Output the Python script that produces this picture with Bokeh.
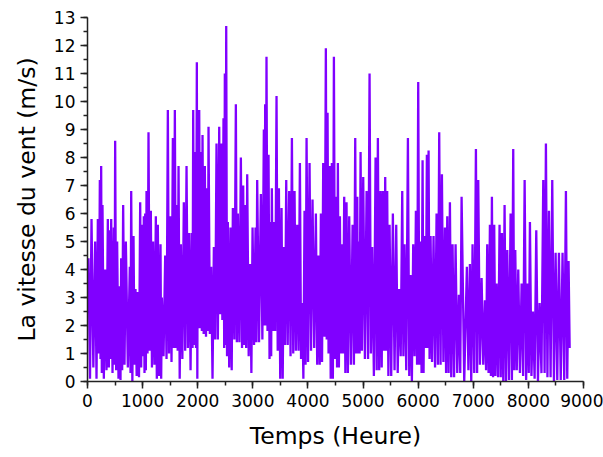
import numpy as np
from bokeh.plotting import figure
from bokeh.models import Range1d, SingleIntervalTicker, ColumnDataSource
from bokeh.embed import file_html
from bokeh.resources import INLINE

# Hourly wind speed: local peaks (hour, m/s) and the
# trough that follows each peak (m/s).
heures_pic = [
    18, 73, 139, 188, 224, 248, 272, 321, 369, 405,
    430, 478, 502, 538, 587, 611, 647, 696, 768, 793,
    835, 871, 913, 956, 992, 1022, 1047, 1071, 1107, 1149,
    1190, 1240, 1276, 1325, 1349, 1410, 1458, 1500, 1549, 1585,
    1621, 1652, 1694, 1748, 1797, 1846, 1894, 1918, 1954, 1984,
    2002, 2027, 2063, 2087, 2129, 2172, 2196, 2244, 2293, 2341,
    2390, 2426, 2468, 2492, 2517, 2547, 2595, 2638, 2692, 2728,
    2783, 2825, 2861, 2898, 2952, 2995, 3049, 3079, 3146, 3200,
    3224, 3248, 3285, 3321, 3345, 3382, 3430, 3473, 3521, 3563,
    3606, 3660, 3709, 3757, 3805, 3854, 3896, 3938, 3975, 4029,
    4083, 4144, 4192, 4235, 4277, 4325, 4356, 4392, 4434, 4471,
    4513, 4543, 4580, 4616, 4658, 4700, 4749, 4810, 4858, 4895,
    4919, 4955, 5003, 5064, 5118, 5166, 5227, 5269, 5317, 5360,
    5402, 5438, 5481, 5541, 5602, 5656, 5711, 5753, 5814, 5862,
    5910, 5959, 6001, 6043, 6080, 6116, 6158, 6189, 6225, 6279,
    6334, 6382, 6431, 6485, 6528, 6576, 6624, 6679, 6739, 6788,
    6884, 6939, 6987, 7048, 7090, 7151, 7211, 7253, 7302, 7338,
    7380, 7423, 7477, 7520, 7568, 7617, 7677, 7725, 7762, 7816,
    7877, 7932, 7986, 8028, 8083, 8143, 8204, 8270, 8318, 8373,
    8433, 8494, 8554, 8620, 8681, 8729,
]
vitesse_pic = [
    4.4, 5.8, 5.0, 5.8, 7.2, 7.7, 6.3, 4.0, 5.8, 5.4,
    5.8, 5.5, 8.6, 5.0, 3.4, 4.4, 6.3, 5.0, 4.1, 6.8,
    5.2, 3.3, 3.2, 6.4, 5.6, 5.9, 6.0, 6.8, 8.9, 6.1,
    5.0, 5.9, 5.6, 4.9, 3.0, 4.5, 9.7, 5.9, 8.7, 9.7,
    6.3, 7.7, 4.9, 6.4, 7.7, 5.3, 5.3, 9.7, 8.2, 11.4,
    9.1, 9.7, 8.2, 8.8, 7.7, 6.9, 9.1, 4.1, 4.8, 8.5,
    9.1, 8.5, 9.4, 11.0, 12.7, 5.7, 5.5, 6.2, 9.9, 6.0,
    8.0, 7.0, 6.3, 7.4, 4.2, 5.5, 5.5, 7.2, 6.7, 9.0,
    9.9, 11.6, 8.1, 5.7, 6.9, 5.7, 10.2, 6.9, 6.2, 4.8,
    7.2, 6.8, 8.7, 6.8, 5.6, 7.8, 2.8, 6.1, 8.7, 7.8,
    6.5, 6.0, 4.5, 6.0, 7.8, 11.9, 9.6, 7.7, 7.8, 11.6,
    6.6, 7.8, 5.9, 4.9, 6.6, 6.4, 5.9, 5.6, 8.7, 6.6,
    5.0, 8.2, 7.3, 6.8, 11.0, 4.8, 8.0, 8.7, 6.8, 6.8,
    7.3, 6.8, 5.6, 6.0, 5.6, 3.3, 6.8, 4.9, 8.7, 3.8,
    4.9, 6.1, 10.7, 5.0, 7.9, 5.2, 8.1, 8.25, 5.2, 5.2,
    6.0, 8.9, 7.4, 5.5, 5.9, 6.4, 4.9, 4.9, 3.1, 6.6,
    4.1, 4.2, 4.9, 8.3, 7.2, 3.7, 2.9, 4.9, 5.6, 6.6,
    5.6, 3.5, 5.6, 5.3, 6.3, 4.7, 6.0, 8.3, 4.7, 4.0,
    3.5, 7.2, 3.5, 5.7, 2.5, 5.4, 2.8, 7.2, 8.5, 6.1,
    7.2, 4.6, 4.6, 4.6, 6.8, 4.3,
]
vitesse_creux = [
    0.1, 0.5, 0.1, 1.0, 0.8, 0.3, 0.1, 0.4, 0.5, 0.8,
    0.3, 0.6, 0.4, 0.1, 0.05, 0.4, 0.6, 0.5, 0.3, 0.0,
    0.6, 0.2, 0.15, 0.5, 0.9, 0.3, 0.4, 1.0, 1.1, 0.5,
    0.6, 0.1, 0.2, 0.1, 0.9, 0.8, 1.0, 0.7, 1.2, 1.2,
    1.1, 0.1, 0.8, 1.1, 1.2, 0.4, 1.2, 1.3, 1.2, 0.1,
    1.9, 1.9, 1.8, 1.7, 1.6, 1.8, 1.7, 0.1, 1.5, 1.5,
    2.4, 2.2, 1.2, 1.3, 0.9, 0.5, 0.4, 1.5, 1.4, 1.4,
    1.2, 1.3, 1.2, 0.9, 0.3, 1.3, 1.4, 1.4, 1.5, 2.0,
    2.0, 1.8, 0.8, 0.9, 1.8, 1.8, 1.1, 0.1, 0.1, 1.3,
    1.3, 0.9, 1.0, 1.1, 1.1, 0.8, 0.1, 0.6, 0.7, 1.1,
    1.2, 0.6, 0.6, 0.7, 1.6, 1.5, 1.0, 0.1, 0.1, 0.8,
    0.5, 0.5, 1.0, 1.0, 0.3, 0.3, 0.6, 0.6, 1.0, 1.0,
    1.0, 1.1, 0.8, 0.8, 1.0, 0.2, 0.4, 0.4, 0.5, 1.1,
    1.1, 0.2, 0.2, 0.4, 0.3, 0.9, 0.9, 0.4, 0.2, 0.0,
    0.9, 0.6, 0.6, 0.3, 0.3, 1.2, 1.2, 0.8, 0.7, 0.5,
    0.6, 0.6, 0.7, 0.3, 0.3, 0.15, 0.15, 0.3, 0.3, 0.0,
    0.4, 0.0, 0.3, 0.3, 0.6, 0.6, 0.4, 0.3, 0.2, 0.15,
    0.2, 0.15, 0.15, 0.0, 0.0, 0.05, 0.05, 0.4, 0.4, 0.3,
    0.2, 0.05, 0.3, 0.2, 0.1, 0.0, 0.3, 0.3, 0.15, 0.15,
    0.0, 0.05, 0.05, 0.05, 0.1, 1.2,
]

t_pic = np.array(heures_pic, dtype=float)
t_creux = np.append((t_pic[:-1] + t_pic[1:]) / 2.0, t_pic[-1] + 20.0)
n = len(t_pic)
heure = np.empty(2 * n)
vitesse = np.empty(2 * n)
heure[0::2] = t_pic
heure[1::2] = t_creux
vitesse[0::2] = vitesse_pic
vitesse[1::2] = vitesse_creux

source = ColumnDataSource(dict(heure=heure, vitesse=vitesse))

FONT = "DejaVu Sans"

p = figure(width=603, height=457, output_backend="svg", toolbar_location=None,
           x_range=Range1d(0, 9000), y_range=Range1d(0, 13),
           min_border_left=87, min_border_right=20,
           min_border_top=17, min_border_bottom=76)

p.line("heure", "vitesse", source=source, line_color="#8000ff",
       line_width=2.3, line_join="miter")

p.xgrid.visible = False
p.ygrid.visible = False
p.outline_line_color = None
p.background_fill_color = "white"
p.border_fill_color = "white"

p.xaxis.ticker = SingleIntervalTicker(interval=1000, num_minor_ticks=2)
p.yaxis.ticker = SingleIntervalTicker(interval=1, num_minor_ticks=2)

for ax in (p.xaxis, p.yaxis):
    ax.axis_line_color = "#222222"
    ax.axis_line_width = 1.5
    ax.major_tick_line_color = "#222222"
    ax.major_tick_line_width = 1.5
    ax.minor_tick_line_color = "#222222"
    ax.minor_tick_line_width = 1.5
    ax.major_tick_in = 0
    ax.major_tick_out = 7
    ax.minor_tick_in = 0
    ax.minor_tick_out = 4
    ax.major_label_text_font = FONT
    ax.major_label_text_font_size = "17px"
    ax.major_label_text_color = "black"
    ax.axis_label_text_font = FONT
    ax.axis_label_text_font_size = "23.5px"
    ax.axis_label_text_font_style = "normal"
    ax.axis_label_text_color = "black"

p.xaxis.axis_label = "Temps (Heure)"
p.yaxis.axis_label = "La vitesse du vent (m/s)"
p.xaxis.axis_label_standoff = 12
p.yaxis.axis_label_standoff = 10

open("out.html", "w").write(file_html(p, INLINE))
